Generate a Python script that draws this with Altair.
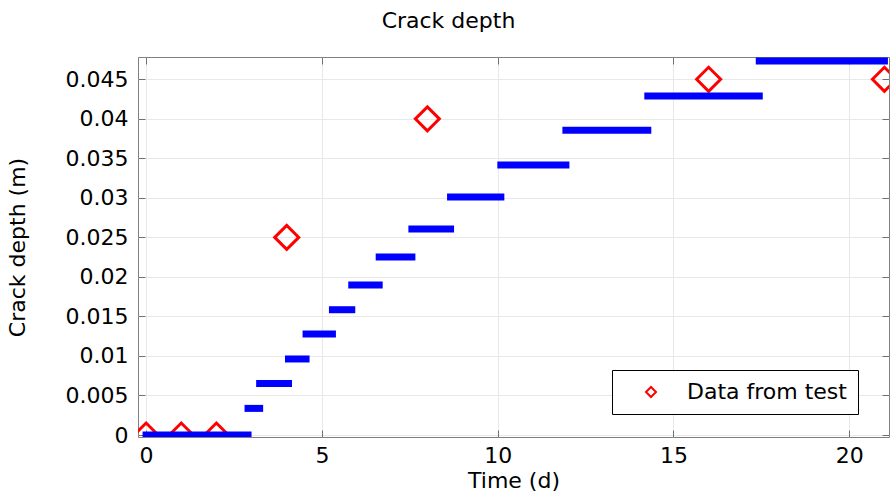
import altair as alt
import pandas as pd

# Simulated crack depth: constant over each time interval
step_start = [0, 2.9, 3.23, 4.05, 4.55, 5.3, 5.85, 6.63, 7.56, 8.66, 10.09, 11.94, 14.27, 17.44]
step_end = [2.9, 3.23, 4.05, 4.55, 5.3, 5.85, 6.63, 7.56, 8.66, 10.09, 11.94, 14.27, 17.44, 21.0]
step_depth = [0, 0.00337, 0.00653, 0.00962, 0.01278, 0.01585, 0.01898,
              0.02252, 0.02606, 0.03011, 0.03416, 0.03855, 0.04289, 0.04732]

# Measured crack depth
test_time = [0, 1, 2, 4, 8, 16, 21]
test_depth = [0, 0, 0, 0.025, 0.04, 0.045, 0.045]

x_ticks = [0, 5, 10, 15, 20]
y_ticks = [0, 0.005, 0.01, 0.015, 0.02, 0.025, 0.03, 0.035, 0.04, 0.045]

FONT = "DejaVu Sans"
FS = 22

steps = pd.DataFrame({"start": step_start, "end": step_end, "depth": step_depth})
tests = pd.DataFrame({"time": test_time, "depth": test_depth,
                      "series": ["Data from test"] * len(test_time)})

x_scale = alt.Scale(domain=[-0.23, 21.13], nice=False, zero=False)
y_scale = alt.Scale(domain=[-0.00025, 0.04782], nice=False, zero=False)

# ticks point inward: axis pulled inside the frame by the tick length
inward = dict(offset=-7, tickSize=7, domain=False, tickColor="#707070", tickWidth=1,
              labelFont=FONT, labelFontSize=FS, labelColor="#000000",
              titleFont=FONT, titleFontSize=FS, titleColor="#000000",
              titleFontWeight="normal", gridColor="#e8e8e8", gridWidth=1)

points = alt.Chart(tests).mark_point(
    shape="diamond", filled=False, size=576, strokeWidth=3, opacity=1, clip=True
).encode(
    x=alt.X("time:Q", scale=x_scale,
            axis=alt.Axis(orient="bottom", values=x_ticks, title="Time (d)", grid=True,
                          labelPadding=8, titleY=40, titleBaseline="top", **inward)),
    y=alt.Y("depth:Q", scale=y_scale,
            axis=alt.Axis(orient="left", values=y_ticks, format=".3~f", title="Crack depth (m)",
                          grid=True, labelPadding=10, titleX=-116, titleBaseline="bottom",
                          **inward)),
    color=alt.Color("series:N",
                    scale=alt.Scale(domain=["Data from test"], range=["#ff0000"]),
                    legend=alt.Legend(title=None, orient="none", legendX=474, legendY=313,
                                      symbolType="diamond", symbolSize=100,
                                      symbolStrokeWidth=2, symbolOffset=17, labelOffset=25,
                                      padding=11, strokeColor="#000000", fillColor="#ffffff",
                                      cornerRadius=0, labelFont=FONT, labelFontSize=FS,
                                      labelColor="#000000")),
)

lines = alt.Chart(steps).mark_rule(
    color="#0000ff", strokeWidth=7, strokeCap="square", clip=True
).encode(
    x=alt.X("start:Q", scale=x_scale,
            axis=alt.Axis(orient="top", values=x_ticks, labels=False, title=None,
                          grid=False, **inward)),
    x2="end:Q",
    y=alt.Y("depth:Q", scale=y_scale,
            axis=alt.Axis(orient="right", values=y_ticks, labels=False, title=None,
                          grid=False, **inward)),
)

chart = alt.layer(points, lines).resolve_axis(
    x="independent", y="independent"
).properties(
    width=751,
    height=380,
    background="white",
    autosize=alt.AutoSizeParams(type="none"),
    padding={"left": 138, "top": 57, "right": 4, "bottom": 56},
    title=alt.Title("Crack depth", anchor="middle", dx=-65, offset=7,
                    baseline="alphabetic", font=FONT, fontSize=FS,
                    fontWeight="normal", color="#000000"),
).configure_view(
    stroke="#808080", strokeWidth=1
)

chart.save("out.html", embed_options={"renderer": "svg", "actions": False})
